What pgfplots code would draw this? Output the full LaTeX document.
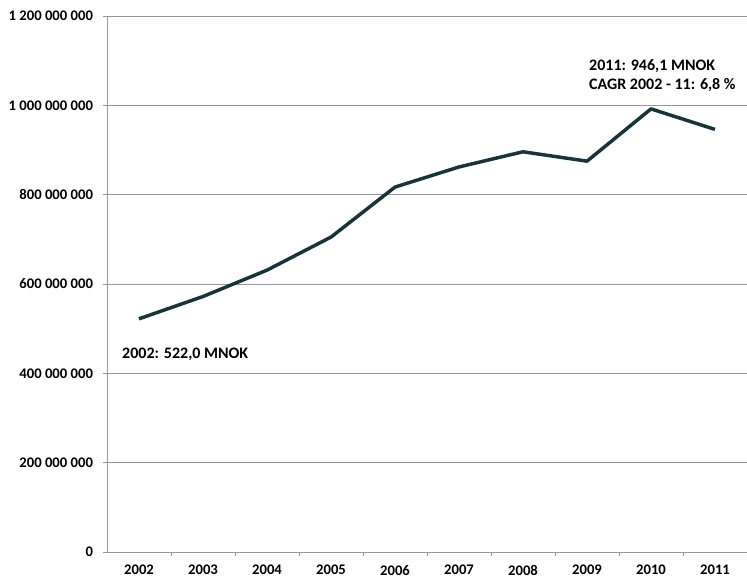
\documentclass[border=0pt]{standalone}
\usepackage{pgfplots}
\pgfplotsset{compat=1.18}
\usepackage{fontspec}
\setmainfont{Carlito}
\definecolor{linecol}{RGB}{24,52,58}
\definecolor{gridcol}{RGB}{150,150,150}
\begin{document}
\begin{tikzpicture}[font=\fontsize{11}{13}\selectfont\bfseries]
\begin{axis}[
  scale only axis,
  width=480pt, height=402pt,
  xmin=0.5, xmax=10.5,
  ymin=0, ymax=1200,
  axis x line=bottom, axis y line=left,
  axis line style={-, gridcol, line width=0.6pt},
  tick align=outside,
  xtick={1,2,3,4,5,6,7,8,9,10},
  xticklabels={2002,2003,2004,2005,2006,2007,2008,2009,2010,2011},
  major x tick style={draw=none},
  minor xtick={1.5,2.5,3.5,4.5,5.5,6.5,7.5,8.5,9.5},
  minor x tick style={gridcol, line width=0.6pt},
  minor tick length=3pt,
  xticklabel style={yshift=-3.5pt},
  ytick={0,200,400,600,800,1000,1200},
  yticklabels={0,200 000 000,400 000 000,600 000 000,800 000 000,1 000 000 000,1 200 000 000},
  y tick style={gridcol, line width=0.6pt},
  major tick length=3pt,
  yticklabel style={xshift=-4pt},
  ymajorgrids,
  grid style={gridcol, line width=0.5pt},
]
% values in MNOK
\addplot[linecol, line width=2.6pt, line join=round] coordinates {
(1,522.0) (2,572) (3,631) (4,705) (5,817) (6,862) (7,896) (8,875) (9,992) (10,946.1)
};
\node[anchor=west, inner sep=0pt, font=\fontsize{12}{14}\selectfont\bfseries] at (axis cs:0.734,443) {2002: 522,0 MNOK};
\node[anchor=west, inner sep=0pt, font=\fontsize{12}{14}\selectfont\bfseries] at (axis cs:8.03,1088) {2011: 946,1 MNOK};
\node[anchor=west, inner sep=0pt, font=\fontsize{12}{14}\selectfont\bfseries] at (axis cs:8.03,1045) {CAGR 2002 - 11: 6,8 \%};
\end{axis}
\pgfresetboundingbox
\path (-80.25pt,-20.25pt) rectangle (480pt,414pt);
\end{tikzpicture}
\end{document}
